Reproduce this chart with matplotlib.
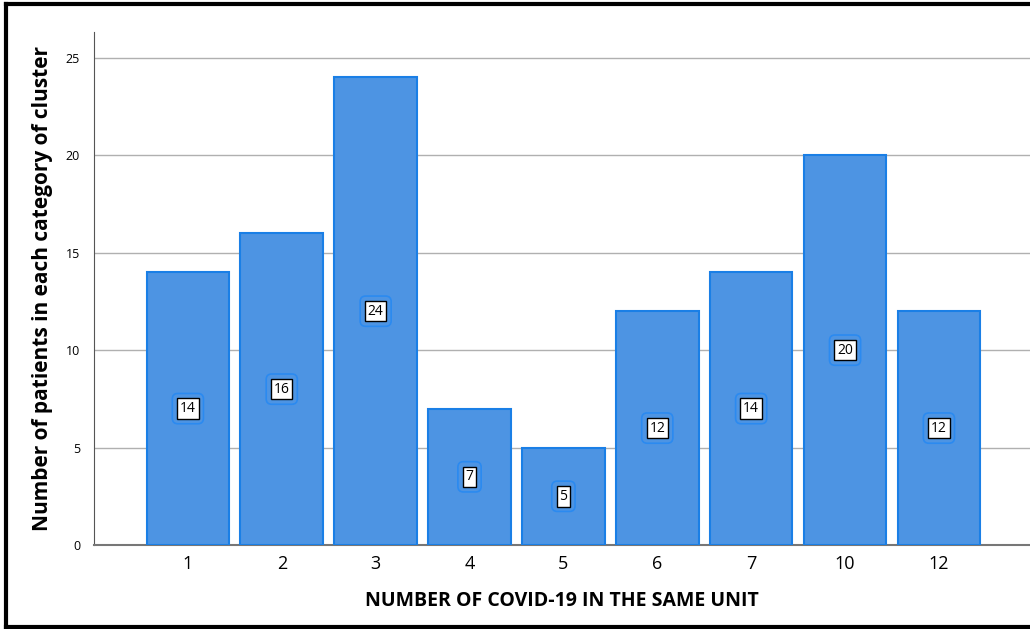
import matplotlib
matplotlib.use("Agg")
import matplotlib.pyplot as plt
from matplotlib.lines import Line2D

categories = ["1", "2", "3", "4", "5", "6", "7", "10", "12"]
counts = [14, 16, 24, 7, 5, 12, 14, 20, 12]
yticks = [0, 5, 10, 15, 20, 25]

plt.rcParams['font.family'] = ['Open Sans', 'DejaVu Sans']

fig = plt.figure(figsize=(10.30, 6.29), dpi=100)
ax = fig.add_axes([94/1030, 1-545/629, 1-94/1030, (545-32)/629])

x = list(range(len(categories)))
ax.bar(x, counts, width=0.88, color="#4d94e3", edgecolor="#1a7fe6", linewidth=1.5, zorder=3)

for xi, v in zip(x, counts):
    ax.text(xi, v/2, str(v), ha="center", va="center", fontsize=10, color=(0, 0, 0, 0),
            zorder=4, bbox=dict(boxstyle="round,pad=0.55,rounding_size=0.4",
                                facecolor="#4d94e3", edgecolor="#2b8af0", linewidth=1.2))
    ax.text(xi, v/2, str(v), ha="center", va="center", fontsize=10, color="black",
            zorder=5, bbox=dict(boxstyle="square,pad=0.2", facecolor="white",
                                edgecolor="black", linewidth=1.0))

ax.set_xlim(-1, 8.97)
ax.set_ylim(0, 26.33)
ax.set_xticks(x)
ax.set_xticklabels(categories, fontsize=13)
ax.set_yticks(yticks)
ax.set_yticklabels([str(t) for t in yticks], fontsize=9)
ax.tick_params(axis="x", length=0, pad=7)
ax.tick_params(axis="y", length=0, pad=10)
ax.grid(axis="y", color="#b0b0b0", linewidth=1.0, zorder=0)
for s in ["top", "right"]:
    ax.spines[s].set_visible(False)
ax.spines["left"].set_color("#555555")
ax.spines["bottom"].set_color("#777777")
ax.spines["bottom"].set_linewidth(1.5)

ax.set_xlabel("NUMBER OF COVID-19 IN THE SAME UNIT", fontsize=14, fontweight="bold", labelpad=13)
ax.set_ylabel("Number of patients in each category of cluster", fontsize=15, fontweight="bold", labelpad=9)

# outer frame
fw, fh = 1030, 629
fig.add_artist(Line2D([6/fw, 6/fw], [1-4/fh, 1-627/fh], color="black", linewidth=3, transform=fig.transFigure))
fig.add_artist(Line2D([6/fw, 1], [1-4/fh, 1-4/fh], color="black", linewidth=3, transform=fig.transFigure))
fig.add_artist(Line2D([6/fw, 1], [1-627/fh, 1-627/fh], color="black", linewidth=3, transform=fig.transFigure))

fig.savefig("out.png", dpi=100)
